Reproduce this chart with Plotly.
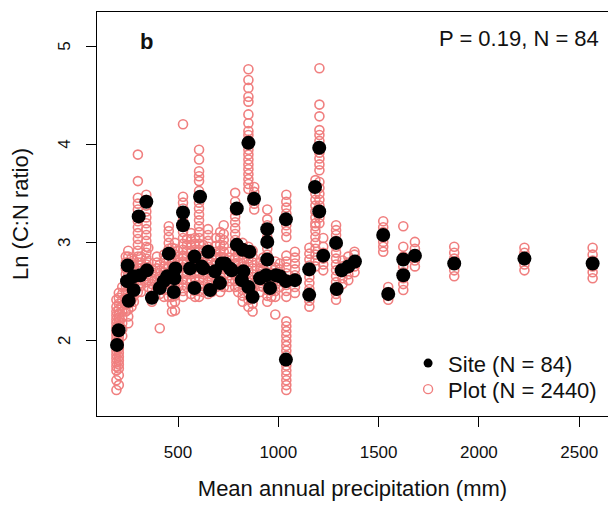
import plotly.graph_objects as go

# Site means (black dots)
site_x = [196, 204, 254, 249, 246, 279, 279, 312, 345, 304, 342, 370, 409, 429, 447, 454,
          487, 482, 479, 525, 525, 560, 582, 582, 610, 618, 626, 651, 660, 684, 709, 718,
          734, 759, 768, 793, 793, 822, 856, 851, 879, 826, 818, 851, 872, 909, 939, 945,
          945, 945, 959, 989, 1008, 1038, 1038, 1038, 1083, 1154, 1154, 1183, 1204, 1204,
          1224, 1288, 1291, 1316, 1349, 1382, 1523, 1548, 1623, 1623, 1681, 1877, 2227, 2567]
site_y = [1.96, 2.11, 2.41, 2.77, 2.61, 2.52, 2.66, 2.67, 2.72, 3.27, 3.42, 2.44, 2.54, 2.61, 2.66, 2.89,
          2.74, 2.64, 2.50, 3.31, 3.18, 2.74, 2.86, 2.54, 3.47, 2.76, 2.74, 2.91, 2.52, 2.71, 2.59, 2.79,
          2.79, 2.74, 2.72, 3.35, 2.98, 2.93, 2.91, 4.02, 3.45, 2.71, 2.62, 2.55, 2.45, 2.64, 2.67, 3.14,
          3.01, 2.83, 2.54, 2.67, 2.66, 2.61, 3.24, 1.81, 2.62, 2.73, 2.47, 3.57, 3.97, 3.32,
          2.87, 3.00, 2.53, 2.72, 2.76, 2.81, 3.08, 2.48, 2.83, 2.67, 2.87, 2.79, 2.84, 2.79]

# Plot-level values (pink open circles), grouped by precipitation column
plot_col_x = [193, 205, 222, 240, 252, 268, 280, 300, 315, 342, 352, 370, 395, 409, 430, 454,
              470, 485, 500, 525, 545, 565, 585, 605, 625, 650, 668, 690, 710, 728, 755, 785,
              800, 822, 851, 872, 880, 910, 925, 945, 965, 985, 1008, 1040, 1083, 1155, 1185,
              1205, 1224, 1288, 1320, 1349, 1380, 1523, 1548, 1623, 1681, 1877, 2227, 2567]
plot_col_y = [
    [1.50, 1.60, 1.70, 1.74, 1.78, 1.82, 1.86, 1.90, 1.94, 1.98, 2.02, 2.06, 2.10, 2.14, 2.18, 2.22, 2.26, 2.30, 2.35, 2.42],
    [1.55, 1.65, 1.72, 1.76, 1.80, 1.84, 1.88, 1.92, 1.96, 2.00, 2.04, 2.08, 2.12, 2.16, 2.20, 2.24, 2.28, 2.32, 2.38, 2.44, 2.49],
    [2.05, 2.12, 2.18, 2.24, 2.30, 2.36, 2.42, 2.48, 2.55],
    [2.30, 2.38, 2.44, 2.50, 2.56, 2.62, 2.68, 2.74, 2.80, 2.86],
    [2.18, 2.25, 2.32, 2.38, 2.44, 2.50, 2.56, 2.62, 2.68, 2.74, 2.80, 2.86, 2.92],
    [2.35, 2.42, 2.48, 2.54, 2.60, 2.66, 2.72, 2.78, 2.84],
    [2.40, 2.46, 2.52, 2.58, 2.64, 2.70, 2.76, 2.82],
    [2.50, 2.56, 2.62, 2.68, 2.74, 2.80, 2.86, 2.92, 2.98, 3.04, 3.10, 3.16, 3.22, 3.28, 3.34, 3.40, 3.46, 3.63, 3.90],
    [2.50, 2.56, 2.62, 2.68, 2.74, 2.80, 2.86],
    [2.60, 2.66, 2.72, 2.78, 2.84, 2.90, 2.96, 3.02, 3.08, 3.14, 3.20, 3.26, 3.32, 3.38, 3.44, 3.49],
    [2.55, 2.62, 2.68, 2.74, 2.80, 2.95],
    [2.40, 2.46, 2.52, 2.58, 2.64, 2.70],
    [2.55, 2.62, 2.68, 2.74, 2.80, 2.86],
    [2.13, 2.48, 2.54, 2.60, 2.66, 2.72, 2.78],
    [2.45, 2.52, 2.58, 2.64, 2.70, 2.76, 2.82, 2.88],
    [2.45, 2.52, 2.58, 2.64, 2.70, 2.76, 2.82, 2.88, 2.94, 3.00, 3.06, 3.12, 3.17],
    [2.30, 2.38, 2.45, 2.52, 2.58, 2.64, 2.70, 2.76, 2.82, 2.88, 2.95],
    [2.31, 2.40, 2.46, 2.52, 2.58, 2.64, 2.70, 2.76, 2.82, 2.88, 2.94, 3.00],
    [2.55, 2.62, 2.68, 2.74, 2.80, 2.86, 2.92],
    [2.45, 2.51, 2.57, 2.63, 2.69, 2.75, 2.81, 2.87, 2.93, 2.99, 3.05, 3.11, 3.17, 3.23, 3.29, 3.35, 3.41, 3.47, 4.21],
    [2.55, 2.62, 2.68, 2.74, 2.80, 2.86, 2.92, 2.98, 3.04],
    [2.48, 2.55, 2.62, 2.68, 2.74, 2.80, 2.86, 2.92, 2.98, 3.04, 3.10],
    [2.45, 2.51, 2.57, 2.63, 2.69, 2.75, 2.81, 2.87, 2.93, 2.99, 3.05],
    [2.45, 2.51, 2.57, 2.63, 2.69, 2.75, 2.81, 2.87, 2.93, 2.99, 3.05, 3.11, 3.17, 3.23, 3.29, 3.35, 3.41, 3.47, 3.53, 3.63, 3.68, 3.73, 3.85, 3.95],
    [2.50, 2.56, 2.62, 2.68, 2.74, 2.80, 2.86, 2.92, 2.98],
    [2.48, 2.54, 2.60, 2.66, 2.72, 2.78, 2.84, 2.90, 2.96, 3.02, 3.08, 3.14],
    [2.50, 2.56, 2.62, 2.68, 2.74, 2.80, 2.86],
    [2.55, 2.61, 2.67, 2.73, 2.79, 2.85, 2.91, 2.97, 3.05],
    [2.50, 2.56, 2.62, 2.68, 2.74, 2.80, 2.86, 2.92, 2.98, 3.05, 3.11],
    [2.55, 2.61, 2.67, 2.73, 2.79, 2.85, 2.91, 2.97, 3.03, 3.09, 3.18],
    [2.55, 2.61, 2.67, 2.73, 2.79, 2.85, 2.91],
    [2.55, 2.61, 2.67, 2.73, 2.79, 2.85, 2.91, 2.97, 3.03, 3.09, 3.15, 3.21, 3.27, 3.33, 3.42, 3.51],
    [2.50, 2.56, 2.62, 2.68, 2.74, 2.80, 2.86, 2.92, 2.98],
    [2.40, 2.46, 2.52, 2.58, 2.64, 2.70, 2.76, 2.82, 2.88, 2.94, 3.00],
    [2.35, 2.42, 2.48, 2.54, 2.60, 2.66, 2.72, 2.78, 2.84, 2.90, 2.96, 3.55, 3.60, 3.65, 3.70, 3.75, 3.80, 3.85,
     3.90, 3.95, 4.00, 4.05, 4.10, 4.14, 4.22, 4.31, 4.44, 4.49, 4.58, 4.66, 4.77],
    [2.30, 2.38, 2.44, 2.50, 2.56, 2.62, 2.68, 2.74, 2.80, 2.86, 2.92],
    [3.34, 3.40, 3.46, 3.52, 3.57],
    [2.50, 2.56, 2.62, 2.68, 2.74, 2.80],
    [2.55, 2.61, 2.67, 2.73, 2.79, 2.85],
    [2.40, 2.46, 2.52, 2.58, 2.64, 2.70, 2.76, 2.82, 2.88, 2.94, 3.00, 3.06, 3.12, 3.18, 3.24, 3.34],
    [2.45, 2.51, 2.57, 2.63, 2.69, 2.75],
    [2.27, 2.45, 2.51, 2.57, 2.63, 2.69, 2.75, 2.81],
    [2.55, 2.61, 2.67, 2.73, 2.79],
    [1.50, 1.55, 1.60, 1.65, 1.70, 1.75, 1.80, 1.85, 1.90, 1.95, 2.00, 2.05, 2.10, 2.15, 2.20, 2.45, 2.51, 2.57,
     2.63, 2.69, 2.75, 2.81, 2.87, 3.06, 3.12, 3.18, 3.24, 3.30, 3.36, 3.42, 3.49],
    [2.49, 2.55, 2.61, 2.67, 2.73, 2.79, 2.85, 2.91],
    [2.35, 2.41, 2.47, 2.53, 2.59, 2.65, 2.71, 2.77, 2.83, 2.89, 2.95],
    [2.76, 2.82, 2.88, 2.94, 3.00, 3.06, 3.12, 3.17, 3.20, 3.26, 3.32, 3.38, 3.44, 3.50, 3.56, 3.64],
    [3.20, 3.26, 3.32, 3.38, 3.44, 3.50, 3.56, 3.62, 3.74, 3.80, 3.86, 3.92, 3.98, 4.04, 4.10, 4.15, 4.29, 4.41, 4.78],
    [2.72, 2.78, 2.84, 2.90, 2.96, 3.05],
    [2.42, 2.48, 2.54, 2.60, 2.66, 2.72, 2.78, 2.84, 2.90, 2.96, 3.02, 3.08, 3.13, 3.18],
    [2.58, 2.64, 2.70, 2.76, 2.82],
    [2.62, 2.68, 2.74, 2.80, 2.86],
    [2.70, 2.76, 2.82, 2.88, 2.91],
    [2.91, 2.96, 3.01, 3.06, 3.11, 3.16, 3.22],
    [2.42, 2.46, 2.50, 2.55],
    [2.52, 2.58, 2.64, 2.70, 2.76, 2.82, 2.86, 2.96, 3.17],
    [2.76, 2.82, 2.88, 2.94, 3.01],
    [2.66, 2.72, 2.78, 2.84, 2.90, 2.96],
    [2.72, 2.78, 2.84, 2.90, 2.95],
    [2.64, 2.70, 2.76, 2.82, 2.88, 2.95],
]

x_ticks = [500, 1000, 1500, 2000, 2500]
y_ticks = [2, 3, 4, 5]

plot_x, plot_y = [], []
for cx, ys in zip(plot_col_x, plot_col_y):
    for v in ys:
        plot_x.append(cx)
        plot_y.append(v)

FONT = "Liberation Sans, Arial, sans-serif"
PINK = "#F07F7F"
TXT = "#111111"

fig = go.Figure()
fig.add_trace(go.Scatter(
    x=plot_x, y=plot_y, mode="markers", name="Plot (N = 2440)", showlegend=False,
    marker=dict(symbol="circle-open", size=9, color=PINK, line=dict(width=1.6, color=PINK))))
fig.add_trace(go.Scatter(
    x=site_x, y=site_y, mode="markers", name="Site (N = 84)", showlegend=False,
    marker=dict(symbol="circle", size=14, color="black", line=dict(width=0))))
# legend entries (no data, legend symbols only)
fig.add_trace(go.Scatter(
    x=[None], y=[None], mode="markers", name="Site (N = 84)", legend="legend",
    marker=dict(symbol="circle", size=9, color="black", line=dict(width=0))))
fig.add_trace(go.Scatter(
    x=[None], y=[None], mode="markers", name="Plot (N = 2440)", legend="legend2",
    marker=dict(symbol="circle-open", size=9, color=PINK, line=dict(width=1.4, color=PINK))))

leg_common = dict(xanchor="left", yanchor="top", font=dict(size=22),
                  bgcolor="rgba(0,0,0,0)", itemsizing="trace")

# rotated y tick labels (R style, parallel to axis)
y_tick_annotations = [
    dict(text=str(v), xref="paper", yref="y", x=0, y=v, xshift=-32,
         xanchor="center", yanchor="middle", textangle=-90, showarrow=False,
         font=dict(size=17, color=TXT))
    for v in y_ticks
]

fig.update_layout(
    width=608, height=505,
    margin=dict(l=97, r=0, t=12, b=89),
    paper_bgcolor="white", plot_bgcolor="white",
    font=dict(family=FONT, size=22, color=TXT),
    legend=dict(x=0.6088, y=0.1824, **leg_common),
    legend2=dict(x=0.6088, y=0.1180, **leg_common),
    xaxis=dict(range=[96.2, 2643.6], tickvals=x_ticks, ticks="outside", ticklen=10,
               tickwidth=1.3, tickcolor="black", showline=True, linecolor="black",
               linewidth=1.3, mirror=True, showgrid=False, zeroline=False,
               tickfont=dict(size=17), ticklabelstandoff=10,
               title=dict(text="Mean annual precipitation (mm)", font=dict(size=22), standoff=20)),
    yaxis=dict(range=[1.235, 5.354], tickvals=y_ticks, ticks="outside", ticklen=10,
               tickwidth=1.3, tickcolor="black", showline=True, linecolor="black",
               linewidth=1.3, mirror=False, showgrid=False, zeroline=False,
               showticklabels=False),
    annotations=y_tick_annotations + [
        dict(text="Ln (C:N ratio)", xref="paper", yref="paper", x=0, y=0.5, xshift=-77,
             xanchor="center", yanchor="middle", textangle=-90, showarrow=False,
             font=dict(size=22, color=TXT)),
        dict(text="<b>b</b>", xref="paper", yref="paper", x=(146 - 97) / 511, y=(416 - 42) / 404,
             xanchor="center", yanchor="middle", showarrow=False, font=dict(size=22)),
        dict(text="P = 0.19, N = 84", xref="paper", yref="paper", x=(601 - 97) / 511,
             y=(416 - 39) / 404, xanchor="right", yanchor="middle", showarrow=False,
             font=dict(size=22)),
    ],
)

fig.write_html("out.html")
